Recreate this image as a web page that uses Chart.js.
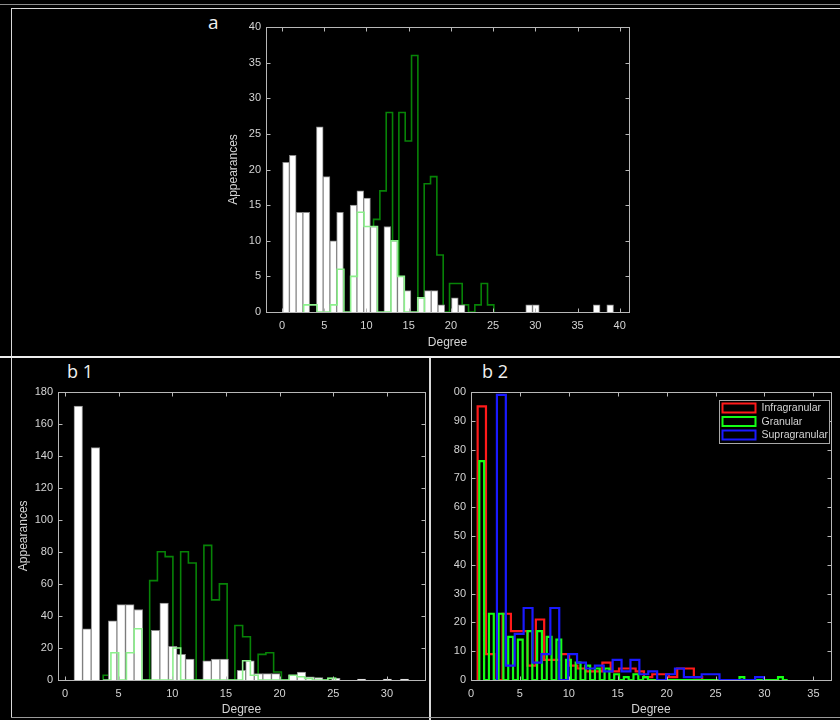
<!DOCTYPE html>
<html>
<head>
<meta charset="utf-8">
<script src="https://cdn.jsdelivr.net/npm/chart.js@4.4.1/dist/chart.umd.min.js"></script>
<style>
  html, body { margin: 0; padding: 0; background: #000; }
  body { width: 840px; height: 720px; position: relative; overflow: hidden; }
  .line { position: absolute; background: #d8d8d8; }
  .panel { position: absolute; }
  .panel canvas { position: absolute; }
  .tag { position: absolute; color: #f0f0f0; font-family: "Open Sans", "Noto Sans", sans-serif; line-height: 1; }
</style>
</head>
<body>
<!-- frame lines -->
<div class="line" style="left:0;top:4px;width:840px;height:1px;background:#8c8c8c"></div>
<div class="line" style="left:11px;top:8px;width:829px;height:1px"></div>
<div class="line" style="left:11px;top:8px;width:1px;height:348px"></div>
<div class="line" style="left:0;top:356px;width:840px;height:2px;background:#ececec"></div>
<div class="line" style="left:11px;top:358px;width:1px;height:360px"></div>
<div class="line" style="left:429px;top:358px;width:2px;height:362px"></div>
<div class="line" style="left:11px;top:717px;width:829px;height:1px;background:#9a9a9a"></div>

<div class="tag" style="left:208px;top:13px;font-size:19px">a</div>
<div class="tag" style="left:67px;top:362px;font-size:18px">b 1</div>
<div class="tag" style="left:482px;top:362px;font-size:18px">b 2</div>

<div class="panel" style="left:220px;top:15px;width:420px;height:340px">
  <canvas id="chartA" width="420" height="340" style="left:0;top:0"></canvas>
</div>
<div class="panel" style="left:14px;top:380px;width:414px;height:337px">
  <canvas id="chartB1" width="414" height="337" style="left:0;top:0"></canvas>
</div>
<div class="panel" style="left:454px;top:380px;width:384px;height:337px;overflow:hidden">
  <canvas id="chartB2" width="404" height="337" style="left:-20px;top:0"></canvas>
</div>

<script>
/* ---------- DATA : panel a ---------- */
// white histogram (bin centres on the degree axis, counts)
const aWhiteX = [0.47, 1.27, 2.07, 2.87, 4.47, 5.27, 6.07, 6.87, 8.47, 9.27, 10.07, 10.87,
                 12.47, 13.27, 14.07, 14.87, 16.47, 17.27, 18.07, 18.87, 20.47, 21.27,
                 29.27, 30.07, 37.27, 38.87];
const aWhiteY = [21, 22, 14, 14, 26, 19, 10, 14, 15, 17, 16, 12,
                 12, 10, 5, 3, 2, 3, 3, 1, 2, 1,
                 1, 1, 1, 1];
// outlined histograms: first bin edge, bin width, counts
const aLightStart = 2.56, aLightWidth = 0.795;
const aLightCounts = [1, 1, 0, 0, 1, 6, 0, 5, 14, 12, 12, 0, 0, 10, 5, 0, 0, 2];
const aDarkStart = 10.84, aDarkWidth = 0.75;
const aDarkCounts = [13, 17, 28, 0, 28, 24, 36, 0, 18, 19, 8, 0, 4, 4, 1, 0, 1, 4, 1];

/* ---------- DATA : panel b1 ---------- */
const b1WhiteX = [1.24, 2.04, 2.84, 4.44, 5.24, 6.04, 6.84, 8.44, 9.24, 10.04, 10.84, 11.64,
                  13.24, 14.04, 14.84, 16.44, 17.24, 18.04, 18.84, 19.64, 21.24, 22.04,
                  22.84, 23.64, 25.24, 27.64, 30.04, 31.64];
const b1WhiteY = [171, 32, 145, 37, 47, 47, 44, 31, 48, 21, 16, 13,
                  12, 13, 13, 6, 12, 4, 4, 4, 3, 5,
                  2, 1.5, 1, 0.5, 0.5, 0.5];
const b1Start = 3.56, b1Width = 0.722;
const b1DarkCounts = [3, 0, 0, 0, 0, 0, 62, 80, 77, 0, 80, 73, 0, 84, 50, 60, 0, 34, 27, 0,
                      16, 17, 5, 0, 0, 0, 1, 1, 0, 1];
const b1LightCounts = [0, 17, 0, 17, 32, 0, 0, 0, 0, 20, 0, 0, 0, 0, 0, 0, 0, 0, 12, 3,
                       0, 0, 0, 0, 3, 2, 1, 0, 0, 1];

/* ---------- DATA : panel b2 ---------- */
const b2Labels = ["Infragranular", "Granular", "Supragranular"];
const b2RedStart = 0.68, b2RedWidth = 0.85;
const b2RedCounts = [95, 9, 0, 23, 17, 17, 5, 21, 7, 7, 9, 5, 4, 3, 3, 6, 3, 4, 4, 3,
                     1, 2, 2, 1, 4, 4, 1];
// granular: one narrow bin per degree (1..32), empty half-bins in between
const b2GreenStart = 0.85, b2GreenWidth = 0.4925;
const b2GreenCounts = [76, 23, 23, 15, 14, 17, 17, 15, 14, 7, 6, 5, 4, 4, 2, 1, 2, 1, 0, 0,
                       0, 0, 0, 0, 0, 0, 0, 1, 0, 0, 0, 1];
const b2BlueStart = 2.65, b2BlueWidth = 0.91;
const b2BlueCounts = [99, 5, 16, 25, 6, 9, 25, 0, 9, 6, 4, 5, 3, 7, 3, 7, 2, 3, 0, 2,
                      4, 1, 1, 2, 2, 0, 0, 0, 0, 1];

/* ---------- STYLE ---------- */
const FONT = "'Liberation Sans', Arial, sans-serif";
const AXIS_COLOR = "#b8b8b8";
const TEXT_COLOR = "#d4d4d4";
const LIGHT_GREEN = "#8cf08c";
const DARK_GREEN = "#078307";

// histogram outline as a stepped line (MATLAB "stairs" look)
function stairs(start, width, counts) {
    const pts = [{ x: start, y: 0 }];
    counts.forEach((c, i) => pts.push({ x: start + i * width, y: c }));
    pts.push({ x: start + counts.length * width, y: 0 });
    return pts;
}

function points(xs, ys) {
    return xs.map((x, i) => ({ x: x, y: ys[i] }));
}

function stairSet(label, data, color, width, order) {
    return {
        type: "line", label: label, data: data,
        borderColor: color, borderWidth: width,
        stepped: "before", pointRadius: 0, fill: false, order: order
    };
}

function whiteSet(data) {
    return {
        type: "bar", label: "all", data: data,
        backgroundColor: "#ffffff", borderColor: "#8a8a8a", borderWidth: 1,
        barPercentage: 1, categoryPercentage: 1, grouped: false, order: 1
    };
}

function xAxis(min, max, height) {
    return {
        type: "linear", min: min, max: max, offset: false,
        grid: { display: false, drawTicks: false },
        border: { display: false },
        ticks: { stepSize: 5, includeBounds: false, color: TEXT_COLOR, padding: 7,
                 maxRotation: 0, autoSkip: false, font: { family: FONT, size: 11 } },
        title: { display: true, text: "Degree", color: TEXT_COLOR,
                 font: { family: FONT, size: 12 }, padding: { top: 3, bottom: 0 } },
        afterFit: s => { s.height = height; }
    };
}

function yAxis(max, step, width, showTitle) {
    return {
        type: "linear", min: 0, max: max,
        grid: { display: false, drawTicks: false },
        border: { display: false },
        ticks: { stepSize: step, color: TEXT_COLOR, padding: 5, font: { family: FONT, size: 11 } },
        title: { display: showTitle, text: "Appearances", color: TEXT_COLOR,
                 font: { family: FONT, size: 12 }, padding: { top: 0, bottom: 4 } },
        afterFit: s => { s.width = width; }
    };
}

// box around the axes with inward tick marks on all four sides
const boxPlugin = {
    id: "matlabBox",
    afterDatasetsDraw(chart) {
        const { ctx, chartArea: a, scales } = chart;
        const L = Math.round(a.left) + 0.5, R = Math.round(a.right) + 0.5;
        const T = Math.round(a.top) + 0.5, B = Math.round(a.bottom) + 0.5;
        const len = 4;
        ctx.save();
        ctx.strokeStyle = AXIS_COLOR;
        ctx.lineWidth = 1;
        ctx.strokeRect(L, T, R - L, B - T);
        ctx.beginPath();
        scales.x.ticks.forEach(t => {
            const px = Math.round(scales.x.getPixelForValue(t.value)) + 0.5;
            ctx.moveTo(px, B); ctx.lineTo(px, B - len);
            ctx.moveTo(px, T); ctx.lineTo(px, T + len);
        });
        scales.y.ticks.forEach(t => {
            const py = Math.round(scales.y.getPixelForValue(t.value)) + 0.5;
            ctx.moveTo(L, py); ctx.lineTo(L + len, py);
            ctx.moveTo(R, py); ctx.lineTo(R - len, py);
        });
        ctx.stroke();
        ctx.restore();
    }
};

// legend drawn inside the plot, top right
const boxLegend = {
    id: "boxLegend",
    afterDraw(chart) {
        const { ctx, chartArea: a } = chart;
        const sets = chart.data.datasets.filter(d => d.showInLegend);
        const w = 110, h = 43;
        const x0 = Math.round(a.right - 2 - w) + 0.5, y0 = Math.round(a.top + 8) + 0.5;
        ctx.save();
        ctx.fillStyle = "#000";
        ctx.fillRect(x0, y0, w, h);
        ctx.strokeStyle = "#a8a8a8";
        ctx.lineWidth = 1;
        ctx.strokeRect(x0, y0, w, h);
        ctx.font = "10.5px " + FONT;
        ctx.textBaseline = "middle";
        sets.forEach((d, i) => {
            const cy = y0 + 7.5 + i * 13.5;
            ctx.strokeStyle = d.borderColor;
            ctx.lineWidth = 2;
            ctx.strokeRect(x0 + 3, cy - 4.5, 33, 9);
            ctx.fillStyle = TEXT_COLOR;
            ctx.fillText(d.label, x0 + 42, cy + 0.5);
        });
        ctx.restore();
    }
};

const common = {
    responsive: false,
    animation: false,
    devicePixelRatio: 1,
    plugins: { legend: { display: false }, tooltip: { enabled: false } }
};

/* ---------- PANEL a ---------- */
new Chart(document.getElementById("chartA"), {
    type: "bar",
    data: {
        datasets: [
            stairSet("light", stairs(aLightStart, aLightWidth, aLightCounts), LIGHT_GREEN, 1.6, 0),
            whiteSet(points(aWhiteX, aWhiteY)),
            stairSet("dark", stairs(aDarkStart, aDarkWidth, aDarkCounts), DARK_GREEN, 1.6, 2)
        ]
    },
    options: Object.assign({}, common, {
        layout: { padding: { left: 6, top: 12, right: 11, bottom: 5 } },
        scales: { x: xAxis(-1.9, 41.1, 38), y: yAxis(40, 5, 40, true) }
    }),
    plugins: [boxPlugin]
});

/* ---------- PANEL b1 ---------- */
new Chart(document.getElementById("chartB1"), {
    type: "bar",
    data: {
        datasets: [
            stairSet("light", stairs(b1Start, b1Width, b1LightCounts), LIGHT_GREEN, 1.6, 0),
            whiteSet(points(b1WhiteX, b1WhiteY)),
            stairSet("dark", stairs(b1Start, b1Width, b1DarkCounts), DARK_GREEN, 1.6, 2)
        ]
    },
    options: Object.assign({}, common, {
        layout: { padding: { left: 2, top: 11, right: 3, bottom: 0 } },
        scales: { x: xAxis(-0.65, 33.55, 37), y: yAxis(180, 20, 42, true) }
    }),
    plugins: [boxPlugin]
});

/* ---------- PANEL b2 ---------- */
const greenHalfBins = b2GreenCounts.flatMap(c => [c, 0]);
const b2Sets = [
    stairSet(b2Labels[0], stairs(b2RedStart, b2RedWidth, b2RedCounts), "#ff1a1a", 2.2, 2),
    stairSet(b2Labels[1], stairs(b2GreenStart, b2GreenWidth, greenHalfBins), "#14ff14", 2.2, 1),
    stairSet(b2Labels[2], stairs(b2BlueStart, b2BlueWidth, b2BlueCounts), "#1a1aff", 2.2, 0)
];
b2Sets.forEach(d => { d.showInLegend = true; });

new Chart(document.getElementById("chartB2"), {
    type: "line",
    data: { datasets: b2Sets },
    options: Object.assign({}, common, {
        layout: { padding: { left: 2, top: 12, right: 7, bottom: 0 } },
        scales: { x: xAxis(0, 36.8, 37), y: yAxis(100, 10, 35, false) }
    }),
    plugins: [boxPlugin, boxLegend]
});
</script>
</body>
</html>
